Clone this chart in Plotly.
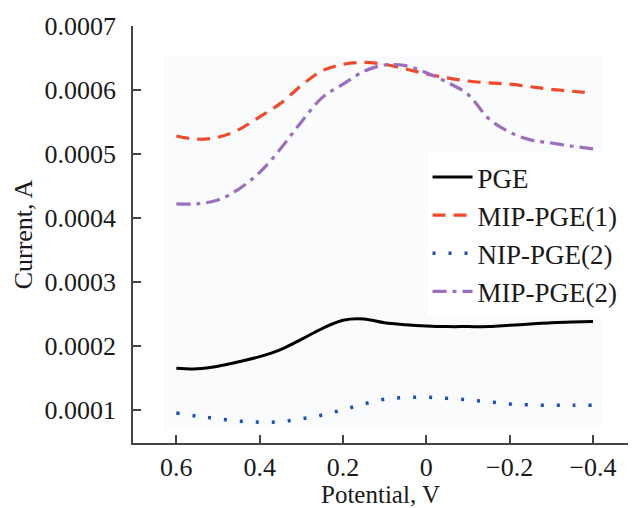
import plotly.graph_objects as go

# Potential (V) sampling grid
potential = [0.6, 0.55, 0.5, 0.45, 0.4, 0.35, 0.3, 0.25, 0.2, 0.15, 0.1,
             0.05, 0.0, -0.05, -0.1, -0.15, -0.2, -0.25, -0.3, -0.35, -0.4]

# Currents (A)
pge = [1.65e-4, 1.64e-4, 1.68e-4, 1.75e-4, 1.83e-4, 1.94e-4, 2.10e-4, 2.27e-4,
       2.40e-4, 2.42e-4, 2.36e-4, 2.33e-4, 2.31e-4, 2.30e-4, 2.30e-4, 2.30e-4,
       2.32e-4, 2.34e-4, 2.36e-4, 2.37e-4, 2.38e-4]
mip_pge1 = [5.28e-4, 5.23e-4, 5.26e-4, 5.38e-4, 5.58e-4, 5.79e-4, 6.07e-4, 6.30e-4,
            6.40e-4, 6.43e-4, 6.40e-4, 6.33e-4, 6.25e-4, 6.19e-4, 6.14e-4, 6.11e-4,
            6.09e-4, 6.05e-4, 6.01e-4, 5.98e-4, 5.95e-4]
nip_pge2 = [0.95e-4, 0.90e-4, 0.86e-4, 0.82e-4, 0.806e-4, 0.812e-4, 0.857e-4, 0.917e-4,
            1.00e-4, 1.09e-4, 1.165e-4, 1.19e-4, 1.195e-4, 1.178e-4, 1.155e-4, 1.125e-4,
            1.09e-4, 1.075e-4, 1.07e-4, 1.07e-4, 1.07e-4]
mip_pge2 = [4.22e-4, 4.22e-4, 4.28e-4, 4.45e-4, 4.71e-4, 5.08e-4, 5.50e-4, 5.88e-4,
            6.09e-4, 6.29e-4, 6.39e-4, 6.38e-4, 6.27e-4, 6.12e-4, 5.93e-4, 5.55e-4,
            5.34e-4, 5.22e-4, 5.17e-4, 5.12e-4, 5.08e-4]

series_names = ["PGE", "MIP-PGE(1)", "NIP-PGE(2)", "MIP-PGE(2)"]

FONT = "Liberation Serif, Times New Roman, serif"
TXT = "#1a1a1a"

fig = go.Figure()
fig.add_trace(go.Scatter(x=potential, y=pge, name=series_names[0], mode="lines",
                         line=dict(color="#000000", width=3, shape="spline")))
fig.add_trace(go.Scatter(x=potential, y=mip_pge1, name=series_names[1], mode="lines",
                         line=dict(color="#f2492a", width=3.2, dash="13px,8px", shape="spline")))
fig.add_trace(go.Scatter(x=potential, y=nip_pge2, name=series_names[2], mode="lines",
                         line=dict(color="#1f4fb4", width=3.5, dash="3px,13px", shape="spline")))
fig.add_trace(go.Scatter(x=potential, y=mip_pge2, name=series_names[3], mode="lines",
                         line=dict(color="#9b6ebe", width=3.2, dash="14px,6px,4px,6px", shape="spline")))

fig.add_shape(type="rect", xref="paper", yref="paper", x0=0.064, x1=0.947, y0=0.037, y1=0.926,
              fillcolor="#f9fbfc", line=dict(width=0), layer="below")

fig.update_layout(
    width=635, height=508,
    margin=dict(l=133, r=7, t=26, b=65, pad=0),
    paper_bgcolor="white", plot_bgcolor="white",
    font=dict(family=FONT, size=26, color=TXT),
    showlegend=True,
    legend=dict(x=0.595, y=0.50, xanchor="left", yanchor="middle",
                bgcolor="white", borderwidth=0, font=dict(size=27, family=FONT, color=TXT),
                itemwidth=40),
    xaxis=dict(range=[0.704, -0.484], tick0=0, dtick=0.2, ticks="inside", ticklen=8,
               tickwidth=1.5, tickcolor="#444", showline=True, linecolor="#444", linewidth=1.5,
               showgrid=False, zeroline=False, tickfont=dict(size=26, family=FONT, color=TXT),
               automargin=False,
               title=dict(text="Potential, V", font=dict(size=25, family=FONT, color=TXT), standoff=0)),
    yaxis=dict(range=[0.000048, 0.0007], tick0=0, dtick=0.0001, tickformat=".4f",
               ticks="inside", ticklen=8, tickwidth=1.5, tickcolor="#444", showline=True,
               linecolor="#444", linewidth=1.5, showgrid=False, zeroline=False,
               tickfont=dict(size=26, family=FONT, color=TXT), ticklabelstandoff=10,
               automargin=False,
               title=dict(text="Current, A", font=dict(size=26, family=FONT, color=TXT), standoff=4)),
)

fig.write_html("out.html", config={"displayModeBar": False},
               post_script="document.body.style.margin='0';document.body.style.padding='0';")
